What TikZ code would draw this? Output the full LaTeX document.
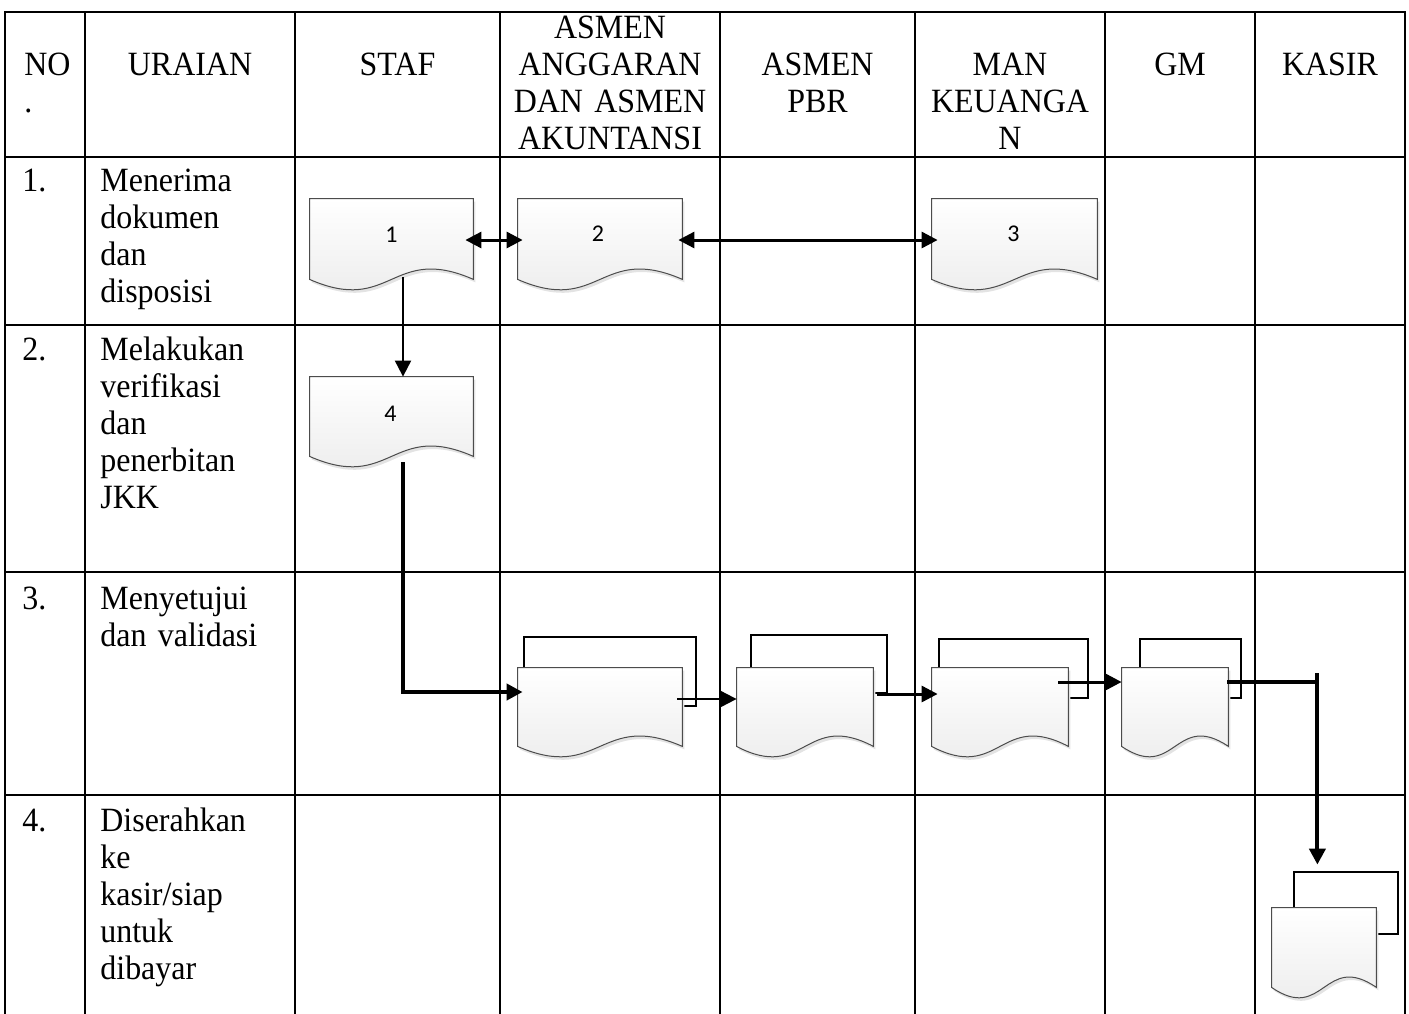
\documentclass[tikz,border=0pt]{standalone}
\usepackage{fontspec}
\setmainfont{Liberation Serif}[FakeStretch=0.94]
\newfontfamily\docfont{Carlito}
\usetikzlibrary{arrows.meta,calc}

% outline of a flowchart "document" shape built on a rectangle node
\newcommand\docpath[1]{(#1.north west) -- (#1.north east) -- (#1.south east)
  .. controls ($(#1.south)+(0,-36)$) and ($(#1.south)+(0,36)$) .. (#1.south west) -- cycle}

\begin{document}
\begin{tikzpicture}[x=0.5pt,y=-0.5pt,
  grid/.style={line width=1.2pt,line cap=rect},
  cell/.style={inner sep=0pt,font=\fontsize{17}{18.6}\selectfont},
  head/.style={cell,text width=120pt,align=center,anchor=base},
  body/.style={cell,text width=120pt,align=left,anchor=base west},
  doc/.style={draw=none,inner sep=0pt,font=\docfont\fontsize{12}{14}\selectfont},
  back/.style={draw=none,inner sep=0pt},
  docfill/.style={top color=white,bottom color=gray!17,draw=gray!60!black,line width=0.5pt},
  docshadow/.style={fill=gray!22,draw=none,transform canvas={shift={(1pt,-1.5pt)}}},
  backline/.style={draw=black,line width=1pt,line join=miter},
  flow/.style={line width=#1,line join=miter,-{Triangle[length=8pt,width=8pt]}},
  both/.style={line width=#1,{Triangle[length=8pt,width=8pt]}-{Triangle[length=8pt,width=8pt]}}
]
\useasboundingbox (0,0) rectangle (1409,1013);

% ---------- table grid ----------
\foreach \x in {5,85,295,500,720,915,1105,1255,1405}
  \draw[grid] (\x,12) -- (\x,1016);
\foreach \y in {12,157,325,572,795}
  \draw[grid] (5,\y) -- (1405,\y);

% ---------- header ----------
\node[cell,text width=40pt,align=left,anchor=base west] (hno) at (24,75) {NO\\.};
\node[head] (hur) at (190,75) {URAIAN};
\node[head] (hst) at (397.5,75) {STAF};
\node[head] (has) at (610,38) {ASMEN\\ANGGARAN\\DAN ASMEN\\AKUNTANSI};
\node[head] (hpb) at (817.5,75) {ASMEN\\PBR};
\node[head] (hmk) at (1010,75) {MAN\\KEUANGA\\N};
\node[head] (hgm) at (1180,75) {GM};
\node[head] (hks) at (1330,75) {KASIR};

% ---------- rows ----------
\node[body] (n1) at (22,191) {1.};
\node[body] (u1) at (100,191) {Menerima\\dokumen\\dan\\disposisi};
\node[body] (n2) at (22,360) {2.};
\node[body] (u2) at (100,360) {Melakukan\\verifikasi\\dan\\penerbitan\\JKK};
\node[body] (n3) at (22,609) {3.};
\node[body] (u3) at (100,609) {Menyetujui\\dan validasi};
\node[body] (n4) at (22,831) {4.};
\node[body] (u4) at (100,831) {Diserahkan\\ke\\kasir/siap\\untuk\\dibayar};

% ---------- single documents ----------
\node[doc,minimum width=81.5pt,minimum height=40pt] (d1) at (391.5,239) {};
\node[doc,minimum width=82pt,minimum height=40pt] (d2) at (600,239) {};
\node[doc,minimum width=82.5pt,minimum height=40pt] (d3) at (1014.5,239) {};
\node[doc,minimum width=81.5pt,minimum height=39.5pt] (d4) at (391.5,416.5) {};

% ---------- stacked documents (front page and back page) ----------
\node[back,minimum width=86pt,minimum height=34.5pt] (a0) at (610,671.5) {};
\node[doc,minimum width=82pt,minimum height=39pt] (a) at (600,707) {};
\node[back,minimum width=68pt,minimum height=29pt] (b0) at (819,664) {};
\node[doc,minimum width=68pt,minimum height=39pt] (b) at (805,707) {};
\node[back,minimum width=74.5pt,minimum height=29.5pt] (c0) at (1013.5,668.5) {};
\node[doc,minimum width=68pt,minimum height=39pt] (c) at (1000,707) {};
\node[back,minimum width=50.5pt,minimum height=29.5pt] (dd0) at (1190.5,668.5) {};
\node[doc,minimum width=53pt,minimum height=39pt] (dd) at (1175,707) {};
\node[back,minimum width=52pt,minimum height=31pt] (e0) at (1346,903) {};
\node[doc,minimum width=52pt,minimum height=39.5pt] (e) at (1324,947.5) {};

% back pages
\foreach \f/\b in {a/a0,b/b0,c/c0,dd/dd0,e/e0}
  \draw[backline] (\b.north west |- \f.north) -- (\b.north west) -- (\b.north east)
    -- (\b.south east) -- (\f.east |- \b.south);

% document bodies
\foreach \n in {d1,d2,d3,d4,a,b,c,dd,e} {
  \fill[docshadow] \docpath{\n};
  \path[docfill] \docpath{\n};
}

% document numbers
\node[doc] (t1) at ($(d1)+(0,-4)$) {1};
\node[doc] (t2) at ($(d2)+(-2,-5)$) {2};
\node[doc] (t3) at ($(d3)+(-1,-5)$) {3};
\node[doc] (t4) at ($(d4)+(-1,-3)$) {4};

% ---------- connectors ----------
\draw[both=1.5pt,shorten <=-4pt,shorten >=-2.5pt] ($(d1.east)+(0,1)$) -- ($(d2.west)+(0,1)$);
\draw[both=1.5pt,shorten <=-2pt,shorten >=-3pt] ($(d2.east)+(0,1)$) -- ($(d3.west)+(0,1)$);
\draw[flow=1pt] ($(d1.south)+(11.5,-2)$) -- ($(d4.north)+(11.5,0)$);
\draw[flow=2pt,shorten >=-2.5pt] ($(d4.south)+(11.5,6)$) |- ($(a.west)+(0,-15)$);
\draw[flow=1pt] ($(a.east)+(-5,-8)$) -- ($(b.west)+(0,-8)$);
\draw[flow=1.5pt,shorten >=-3pt] ($(b.east)+(4,-13)$) -- ($(c.west)+(0,-13)$);
\draw[flow=1.5pt] ($(c.east)+(-10,-25)$) -- ($(dd.west)+(0,-25)$);
\coordinate (jn) at ($(dd.east)+(89,-25)$);
\draw[line width=2pt] ($(dd.east)+(-1,-25)$) -- (jn);
\draw[flow=2pt,shorten >=3.5pt] ($(jn)+(0,-9)$) -- (jn |- e0.north);
\end{tikzpicture}
\end{document}
